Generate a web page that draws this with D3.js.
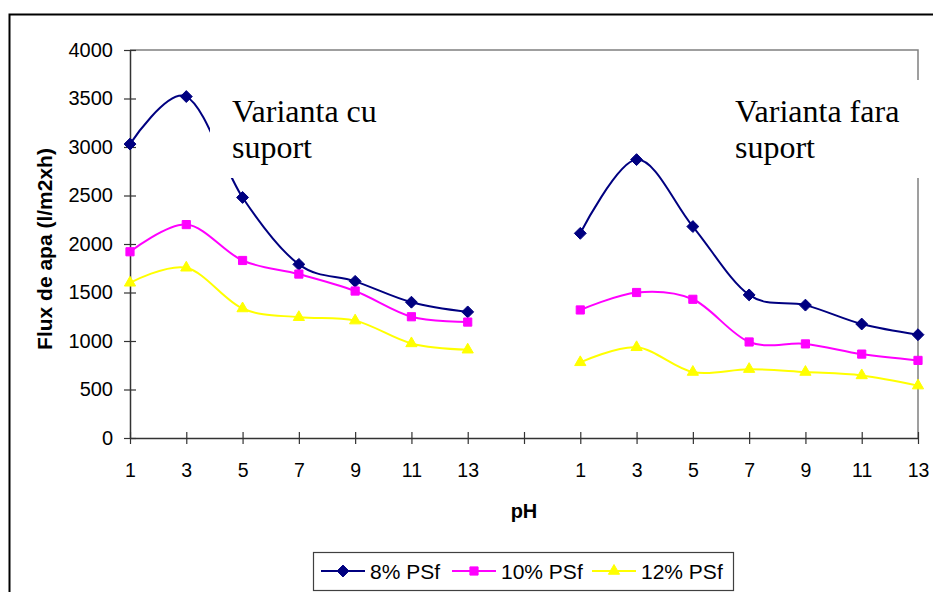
<!DOCTYPE html>
<html>
<head>
<meta charset="utf-8">
<script src="https://cdn.jsdelivr.net/npm/d3@7/dist/d3.min.js"></script>
<style>
  html, body { margin: 0; padding: 0; background: #fff; }
  svg { display: block; }
</style>
</head>
<body>
<svg id="chart" width="933" height="592"></svg>
<script>
// pH categories: two groups of measurements separated by one empty slot
const phLabels = ["1", "3", "5", "7", "9", "11", "13", "", "1", "3", "5", "7", "9", "11", "13"];

// Water flux (l/m2xh); null marks the empty slot between the two variants
const psf8  = [3030, 3520, 2480, 1790, 1615, 1400, 1300, null, 2110, 2870, 2180, 1475, 1370, 1175, 1065];
const psf10 = [1920, 2200, 1830, 1690, 1515, 1250, 1195, null, 1320, 1500, 1430, 990, 970, 865, 800];
const psf12 = [1600, 1755, 1335, 1245, 1210, 975, 910, null, 780, 935, 680, 710, 680, 645, 540];

const seriesNames = ["8% PSf", "10% PSf", "12% PSf"];
const yTicks = [0, 500, 1000, 1500, 2000, 2500, 3000, 3500, 4000];

const SANS = "Arial, 'Liberation Sans', sans-serif";
const SERIF = "'Times New Roman', 'Liberation Serif', serif";

const series = [
  { name: seriesNames[0], values: psf8,  color: "#000080", marker: d3.symbolDiamond2, size: 90 },
  { name: seriesNames[1], values: psf10, color: "#FF00FF", marker: d3.symbolSquare2,  size: 85 },
  { name: seriesNames[2], values: psf12, color: "#FFFF00", marker: d3.symbolTriangle2, size: 90 }
];

const svg = d3.select("#chart");
const plot = { left: 130, right: 918, top: 50, bottom: 438 };

// Outer chart frame
svg.append("rect")
  .attr("x", 9.5).attr("y", 14.5).attr("width", 960).attr("height", 620)
  .attr("fill", "#fff").attr("stroke", "#000").attr("stroke-width", 2);

const x = d3.scalePoint()
  .domain(d3.range(phLabels.length))
  .range([plot.left, plot.right]);

const y = d3.scaleLinear()
  .domain([0, 4000])
  .range([plot.bottom, plot.top]);

// Plot area border (top and right)
svg.append("path")
  .attr("d", `M${plot.left},${plot.top}H${plot.right}V${plot.bottom}`)
  .attr("fill", "none").attr("stroke", "#808080").attr("stroke-width", 1.5);

// Y axis
const yAxis = svg.append("g")
  .attr("transform", `translate(${plot.left},0)`)
  .call(d3.axisLeft(y).tickValues(yTicks).tickFormat(d3.format("d"))
    .tickSize(6).tickPadding(11).tickSizeOuter(0));
yAxis.select(".domain").attr("stroke", "#333").attr("stroke-width", 1.5);
yAxis.selectAll(".tick line").attr("x1", 6).attr("stroke", "#333").attr("stroke-width", 1.2);
yAxis.selectAll(".tick text").style("font-size", "20px").style("font-family", SANS).attr("fill", "#000");

// X axis
const xAxis = svg.append("g")
  .attr("transform", `translate(0,${plot.bottom})`)
  .call(d3.axisBottom(x).tickFormat(i => phLabels[i]).tickSize(6).tickPadding(19).tickSizeOuter(0));
xAxis.select(".domain").attr("stroke", "#333").attr("stroke-width", 1.5);
xAxis.selectAll(".tick line").attr("y1", -6).attr("stroke", "#333").attr("stroke-width", 1.2);
xAxis.selectAll(".tick text").style("font-size", "19.5px").style("font-family", SANS).attr("fill", "#000");

// Axis titles
svg.append("text")
  .attr("transform", `translate(52,${(plot.top + plot.bottom) / 2 + 5}) rotate(-90)`)
  .attr("text-anchor", "middle")
  .style("font-size", "21px").style("font-weight", "bold").style("font-family", SANS)
  .text("Flux de apa (l/m2xh)");

svg.append("text")
  .attr("x", 524).attr("y", 518)
  .attr("text-anchor", "middle")
  .style("font-size", "20px").style("font-weight", "bold").style("font-family", SANS)
  .text("pH");

// Smoothed series lines, broken at the empty slot
const line = d3.line()
  .defined(d => d != null)
  .x((d, i) => x(i))
  .y(d => y(d))
  .curve(d3.curveCatmullRom.alpha(0));

const lines = svg.append("g");
series.forEach(s => {
  lines.append("path")
    .attr("d", line(s.values))
    .attr("fill", "none").attr("stroke", s.color).attr("stroke-width", 2);
});

const markers = svg.append("g");
series.forEach(s => {
  const sym = d3.symbol().type(s.marker).size(s.size);
  markers.selectAll(null)
    .data(s.values.map((v, i) => ({ v, i })).filter(d => d.v != null))
    .join("path")
    .attr("transform", d => `translate(${x(d.i)},${y(d.v)})`)
    .attr("d", sym)
    .attr("fill", s.color).attr("stroke", s.color).attr("stroke-width", 1);
});

// Annotation text boxes (opaque white backgrounds)
const notes = [
  { lines: ["Varianta cu", "suport"], box: [210, 80, 190, 98], tx: 232 },
  { lines: ["Varianta fara", "suport"], box: [718, 80, 212, 98], tx: 735 }
];
notes.forEach(n => {
  svg.append("rect")
    .attr("x", n.box[0]).attr("y", n.box[1]).attr("width", n.box[2]).attr("height", n.box[3])
    .attr("fill", "#fff");
  n.lines.forEach((t, k) => {
    svg.append("text")
      .attr("x", n.tx).attr("y", 122 + k * 36)
      .style("font-family", SERIF).style("font-size", "32px")
      .attr("fill", "#000")
      .text(t);
  });
});

// Legend
const legend = svg.append("g");
legend.append("rect")
  .attr("x", 313.5).attr("y", 552.5).attr("width", 420).attr("height", 38)
  .attr("fill", "#fff").attr("stroke", "#404040").attr("stroke-width", 1.2);
const legendX = [321, 452, 592];
series.forEach((s, k) => {
  const g = legend.append("g").attr("transform", `translate(${legendX[k]},571)`);
  g.append("line").attr("x1", 0).attr("x2", 44).attr("y1", 0).attr("y2", 0)
    .attr("stroke", s.color).attr("stroke-width", 2);
  g.append("path").attr("transform", "translate(22,0)")
    .attr("d", d3.symbol().type(s.marker).size(s.size)())
    .attr("fill", s.color).attr("stroke", s.color);
  g.append("text").attr("x", 49).attr("y", 7.5)
    .style("font-size", "21px").style("font-family", SANS).attr("fill", "#000")
    .text(s.name);
});
</script>
</body>
</html>
